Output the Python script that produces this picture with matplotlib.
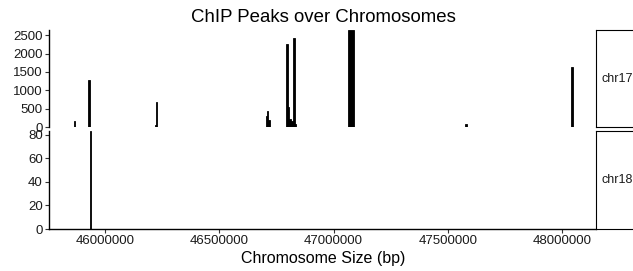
import matplotlib
matplotlib.use("Agg")
import matplotlib.pyplot as plt

plt.rcParams['font.family'] = ['Liberation Sans', 'DejaVu Sans']

# peaks on chr17: start, end, score
chr17_start = [45862000, 45926000, 46220000, 46223000, 46702000, 46709000, 46715000,
               46792600, 46797000, 46805700, 46814500, 46820200, 46825900,
               47064500, 47574600, 48039500]
chr17_end = [45866000, 45932000, 46223000, 46229000, 46709000, 46715000, 46720000,
             46799600, 46805700, 46814500, 46820200, 46830300, 46834700,
             47089000, 47583300, 48049600]
chr17_score = [170, 1280, 50, 690, 300, 435, 200,
               2260, 535, 225, 155, 2420, 80,
               2640, 80, 1640]

# peaks on chr18
chr18_start = [45934000]
chr18_end = [45939700]
chr18_score = [83]

xticks = [46000000, 46500000, 47000000, 47500000, 48000000]
xlim = (45754000, 48149000)

W, H = 633, 271
fig = plt.figure(figsize=(W / 100, H / 100), dpi=100)

def px_axes(x0, y0, x1, y1):
    return fig.add_axes([x0 / W, 1 - y1 / H, (x1 - x0) / W, (y1 - y0) / H])

ax1 = px_axes(49, 30, 596, 127)
ax2 = px_axes(49, 131, 596, 229)

tick_col = '#333333'
panels = [(ax1, chr17_start, chr17_end, chr17_score, [0, 500, 1000, 1500, 2000, 2500], 'chr17', 30, 127),
          (ax2, chr18_start, chr18_end, chr18_score, [0, 20, 40, 60, 80], 'chr18', 131, 229)]

for ax, st, en, sc, yt, name, y0, y1 in panels:
    w = [e - s for s, e in zip(st, en)]
    ax.bar(st, sc, width=w, align='edge', color='black', edgecolor='black', linewidth=0.6)
    ax.set_xlim(*xlim)
    ax.set_ylim(0, max(sc))
    ax.set_yticks(yt)
    ax.set_xticks(xticks)
    ax.spines['top'].set_visible(False)
    ax.spines['right'].set_visible(False)
    ax.spines['left'].set_linewidth(1.0)
    ax.tick_params(axis='both', length=3, width=0.8, color=tick_col, labelsize=9.5,
                   labelcolor='#1a1a1a', pad=1.5)
    # strip on the right
    sx = px_axes(596, y0, 660, y1)
    sx.set_xticks([])
    sx.set_yticks([])
    for s in sx.spines.values():
        s.set_linewidth(0.8)
    sx.text(5 / 64, 0.5, name, transform=sx.transAxes, ha='left', va='center',
            fontsize=9, color='#1a1a1a')

ax1.spines['bottom'].set_visible(False)
ax1.tick_params(axis='x', bottom=False, labelbottom=False)
ax2.spines['bottom'].set_linewidth(1.0)
ax2.set_xticklabels([str(t) for t in xticks])

fig.text(323 / W, 1 - 18 / H, 'ChIP Peaks over Chromosomes', ha='center', va='center', fontsize=13.4)
fig.text(323 / W, 1 - 258.5 / H, 'Chromosome Size (bp)', ha='center', va='center', fontsize=11.5)

fig.savefig('out.png', dpi=100)
